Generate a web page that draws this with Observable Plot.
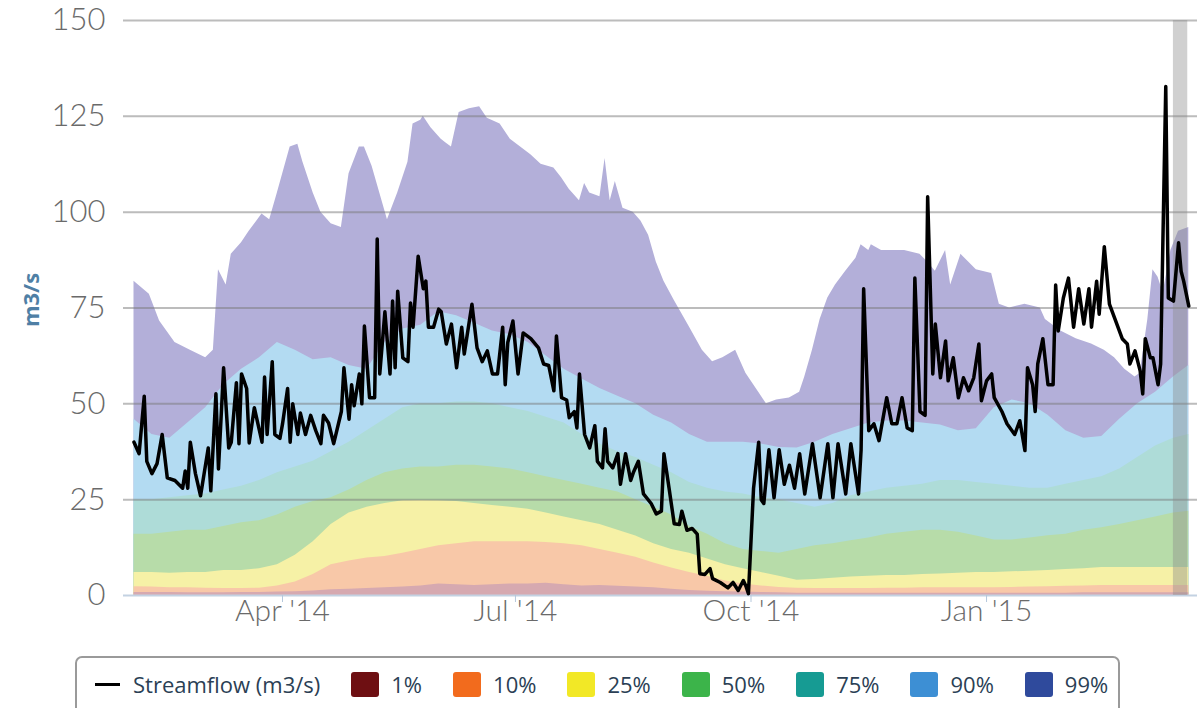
<!DOCTYPE html>
<html>
<head>
<meta charset="utf-8">
<script src="https://cdn.jsdelivr.net/npm/d3@7"></script>
<script src="https://cdn.jsdelivr.net/npm/@observablehq/plot@0.6"></script>
<style>
html,body{margin:0;padding:0;background:#fff;}
#wrap{position:relative;width:1197px;height:708px;overflow:hidden;}
#chart{position:absolute;left:0;top:0;}
#ylab{position:absolute;left:30px;top:300px;transform:translate(-50%,-50%) rotate(-90deg);font:700 22px "Open Sans",sans-serif;color:#4f7fa5;white-space:nowrap;}
#legend{position:absolute;left:75px;top:656px;width:1045px;height:64px;border:2px solid #9a9a9a;border-radius:7px;box-sizing:border-box;display:flex;align-items:center;padding:0 0 8px 18px;font:400 22px "Open Sans",sans-serif;color:#2b3f55;white-space:nowrap;}
.lline{display:inline-block;width:25px;height:3px;background:#000;margin-right:13px;}
.lsq{display:inline-block;width:28px;height:25px;border-radius:3px;margin-left:31px;margin-right:12px;}
</style>
</head>
<body>
<div id="wrap">
  <div id="chart"></div>
  <div id="ylab">m3/s</div>
  <div id="legend"></div>
</div>
<script>
// ---- data (days counted from 2014-02-01) ----
const tickDays = [59, 150, 242, 334];
const tickLabels = ["Apr '14", "Jul '14", "Oct '14", "Jan '15"];
const yTicks = [0, 25, 50, 75, 100, 125, 150];

const bandDays = [1,8,15,22,29,36,43,50,57,64,71,78,85,92,99,106,113,120,127,134,141,148,155,162,169,176,183,190,197,204,211,218,225,232,239,246,253,260,267,274,281,288,295,302,309,316,323,330,337,344,351,358,365,372,379,386,393,400,407,413];
const p90 = [46,42,41,45,49,55,59,62,66,64, 61.5,62,60,59,66,69.5,70.5,74,73,71, 69,68,66,62.5,59,56.5,54,52,50,47, 45,42,40,40,40,39.5,38.6,38.5,40,42, 43.5,45,45.5,45.5,45,44.5,43,43.5,49,51, 50,47,43,41,41.5,46,50,53,57,60];
const p75 = [25,25,25.5,26,26.5,27.5,28.5,30,32,33.5, 35,37.5,40,43,46,49,50,50,50.5,50.5, 50,49,48,46.5,45,42,39.5,37.5,36,34, 32,29.5,28,27,26.5,25.5,25,24,23,24, 26,27,28,28.5,29,30,30,29.5,29,28.5, 28,28,29,30,31,33,36,39,41,42];
const p50 = [16,16,16.5,17,17,18,19,19.5,21,23, 24.5,25.5,27.5,30,32,33,33.5,33.5,34,34, 33.5,33,32,31,30,29,28,27,25,23, 21,18,16,13.5,12,11.5,11,12,13,13.5, 14.3,15,16,16.5,17,17,16.5,15.5,14.5,14.5, 15,15.6,16,17,17.7,18.5,19.5,20.5,21.5,22];
const p25 = [6,6,5.8,6,6,6.5,6.5,7,8,10.5, 14,18.5,21.5,23,24,24.7,24.8,24.7,24.5,24, 23.5,23,22.5,21.5,20.5,19.5,18.5,17,15.5,13.5, 12,11,9.5,8,7,6,5,4,4.2,4.5, 4.8,5,5.2,5.2,5.5,5.6,5.8,6,6,6.2, 6.3,6.5,6.8,7,7.3,7.3,7.3,7.3,7.3,7.3];
const p10 = [2.3,2.2,2,2,1.9,1.8,1.8,1.9,2.5,3.5, 5.5,8,9,9.8,10.2,11,12,13,13.5,14, 14,14,14,13.8,13.5,13,12,11,10,8.5, 7.2,6,5,3.8,3,2.5,2.1,1.9,1.8,1.8, 1.8,1.8,1.9,1.9,2,2,2,2,2,2.1, 2.2,2.3,2.4,2.5,2.6,2.6,2.6,2.6,2.6,2.6];
const p1 = [0.8,0.8,0.8,0.7,0.7,0.7,0.8,0.8,0.9,1, 1.2,1.5,1.6,1.8,2,2.2,2.5,3,2.8,2.6, 2.8,3,3,3.2,2.8,2.5,2.6,2.4,2.2,2, 1.6,1.3,1.1,1,0.9,0.8,0.7,0.6,0.6,0.6, 0.6,0.6,0.6,0.6,0.6,0.6,0.6,0.6,0.6,0.6, 0.6,0.6,0.6,0.7,0.7,0.7,0.7,0.7,0.7,0.7];

const p99Days = [1,7,11,17,23,29,32,34,37,39, 43,46,51,54,57,62,65,67,71,74, 78,82,85,89,91,94,97,100,104,108, 110,113,114,117,121,123,125,128,132,136, 139,144,148,152,156,160,165,168,171,175, 177,179,183,185,187,189,192,196,199,202, 205,208,212,218,223,227,231,236,240,245, 248,252,257,261,263,266,269,272,275,279, 283,285,288,289,293,298,302,308,311,314, 318,320,324,327,330,336,339,343,349,355, 357,363,369,375,380,384,388,392,394,397, 399,401,403,406,409,413];
const p99 = [82,78.6,71.6,66,64,62,64,85,81,89, 92,95,99.5,98,105,117,117.7,113,105,100, 97,96,110,117,117,112,105,98,105,113, 123,124,125,122,119,118,117,126,127,127.5, 124.5,123,119,117,115,112.5,111.5,109,106,103, 107.5,105,104,114,103,108,101,100,97.7,94, 87,82,77,70,64,61,62,64,58,53, 50,51,51.5,53,57,64,72,77.6,81,84.6, 88,91.5,90,91.5,90,90,90,89,87,84.6, 90,81,89,87,85,84,76,75,76,75, 72,69,67,65.6,64,62,59,57,58,72, 85,83,79,90,95,96];

const flowDays = [1,3,5,6,8,10,12,14,17,20,21,22,23,25,27,30,31,33,34,36,38,39,41,42,43,45,46,48,51,52,53,55,56,58,59,61,62,63,65,66,68,70,72,74,75,77,79,82,83,85,86,87,89,90,91,93,95,96,97,99,101,102,103,104,106,108,109,110,112,114,115,116,118,120,121,123,125,127,129,130,133,135,137,139,141,143,145,146,147,149,151,153,156,159,161,163,165,166,168,170,171,173,174,175,177,179,181,182,184,185,186,188,190,191,193,195,196,198,200,203,205,207,208,210,212,214,215,217,219,221,222,224,226,227,230,233,235,237,239,240,241,243,245,246,247,249,251,253,255,257,259,261,263,266,269,272,274,276,279,281,284,285,286,288,290,292,295,297,299,301,303,305,306,308,310,311,313,314,316,318,319,321,323,325,327,329,331,332,334,336,337,340,342,345,347,349,350,352,353,354,356,358,360,361,362,364,366,368,370,372,374,375,377,378,380,382,384,387,389,390,392,394,395,396,398,399,401,402,404,405,407,409,410,411,413];
const flowValues = [40,37,52,35,31.8,34.4,42,30.7,30,28,32.5,28,40,31.8,26,38.5,27.3,52.6,33,59.4,38.5,40,55.5,39.6,57.8,54,39.8,49,40,57,42,61,42,41,44.7,54,40,50,42,47.6,42,47,43,39.6,47,45,39.6,48,59.4,46,55,49.5,57.8,50,70.3,51.6,51.6,93,57.8,74,57.8,76.8,59.4,79.4,62,61,76.3,70,88.5,80,82,70,70,74.7,74,65.6,70.8,59.4,70,63,76,64.6,61,63.8,57.8,57.8,70,55,66,71.6,57.8,68.5,67,64.6,60.4,60,53.4,67.7,51.6,51,46.4,48,43.7,57.8,42,38.5,44.3,35,33.3,43.5,35,33.3,37,29,37,30,32,35,26.5,24,21.3,22,37,28,18.7,18.5,22,17,17.5,16,5.7,5.5,7,4.4,3.4,2,3.4,1.3,3.9,2.5,0.5,28,40,25,24,38,25.5,38,29,34,28,37,26.5,39.6,25.5,39.6,25.5,39.6,26.5,39.6,26.5,38,80,43,44.8,40.4,51.6,44.8,44.8,51.6,43.7,43,82.8,48,47,104,57.8,70.8,56.8,66.4,56,62,51.6,56.8,53.4,56.8,65.6,50.8,56,57.8,51.6,48,44.8,42,45.6,37.8,59.4,55,48,60.4,67,55,55,81,69,77.6,82.8,70,80,70.8,80,70,82,73.4,91,76,72.4,67,65.6,60.4,63.8,58.6,52.6,67,62,62,55,60.4,132.8,77.6,76.8,92,84.6,82,75.5];

const provisional = [{start: 407, end: 412.6}];

const legendLabels = ["1%", "10%", "25%", "50%", "75%", "90%", "99%"];
const legendColors = ["#6e0f12", "#f26b1d", "#f2e826", "#3cb44a", "#169b93", "#3d8fd4", "#2f4a9c"];
const bandFills = {p99:"#b3afd9", p90:"#b3dbf2", p75:"#aedcd8", p50:"#b7dca9", p25:"#f6f1a6", p10:"#f8c8a8", p1:"#d6a9b0"};

// ---- build tables ----
const bandRows = bandDays.map((d, i) => ({day: d, p90: p90[i], p75: p75[i], p50: p50[i], p25: p25[i], p10: p10[i], p1: p1[i]}));
const p99Rows = p99Days.map((d, i) => ({day: d, v: p99[i]}));
const flowRows = flowDays.map((d, i) => ({day: d, v: flowValues[i]}));
const labelMap = new Map(tickDays.map((d, i) => [d, tickLabels[i]]));

const chartSvg = Plot.plot({
  width: 1197,
  height: 620,
  marginLeft: 123,
  marginRight: 0,
  marginTop: 20,
  marginBottom: 25,
  style: {fontFamily: "Lato, sans-serif", background: "transparent", overflow: "visible"},
  x: {type: "linear", domain: [-3.1, 416.4]},
  y: {type: "linear", domain: [0, 150]},
  marks: [
    Plot.areaY(p99Rows, {x: "day", y: "v", fill: bandFills.p99}),
    Plot.areaY(bandRows, {x: "day", y: "p90", fill: bandFills.p90}),
    Plot.areaY(bandRows, {x: "day", y: "p75", fill: bandFills.p75}),
    Plot.areaY(bandRows, {x: "day", y: "p50", fill: bandFills.p50}),
    Plot.areaY(bandRows, {x: "day", y: "p25", fill: bandFills.p25}),
    Plot.areaY(bandRows, {x: "day", y: "p10", fill: bandFills.p10}),
    Plot.areaY(bandRows, {x: "day", y: "p1", fill: bandFills.p1}),
    Plot.ruleY(yTicks.filter(t => t > 0), {stroke: "#7a7a7a", strokeOpacity: 0.5, strokeWidth: 2}),
    Plot.ruleY([0], {stroke: "#c3d2e2", strokeWidth: 2}),
    Plot.rect(provisional, {x1: "start", x2: "end", y1: () => 0, y2: () => 150, fill: "#8a8a8a", fillOpacity: 0.4}),
    Plot.line(flowRows, {x: "day", y: "v", stroke: "#000", strokeWidth: 3.5, strokeLinejoin: "round"}),
    Plot.axisY({ticks: yTicks, tickSize: 0, tickPadding: 18, fontSize: 31, fontWeight: 300, color: "#6a6a6a", label: null}),
    Plot.axisX({ticks: tickDays, tickSize: 7, tickFormat: () => "", color: "#b5c8dc", label: null}),
    Plot.axisX({ticks: tickDays, tickSize: 0, tickPadding: 4, tickFormat: d => labelMap.get(d), fontSize: 30, fontWeight: 300, color: "#6a6a6a", label: null})
  ]
});
document.getElementById("chart").appendChild(chartSvg);

// ---- legend ----
const lg = document.getElementById("legend");
const firstSwatch = document.createElement("span");
firstSwatch.className = "lline";
lg.appendChild(firstSwatch);
lg.appendChild(document.createTextNode("Streamflow (m3/s)"));
legendLabels.forEach((lab, i) => {
  const sq = document.createElement("span");
  sq.className = "lsq";
  sq.style.background = legendColors[i];
  lg.appendChild(sq);
  const t = document.createElement("span");
  t.textContent = lab;
  lg.appendChild(t);
});
</script>
</body>
</html>
